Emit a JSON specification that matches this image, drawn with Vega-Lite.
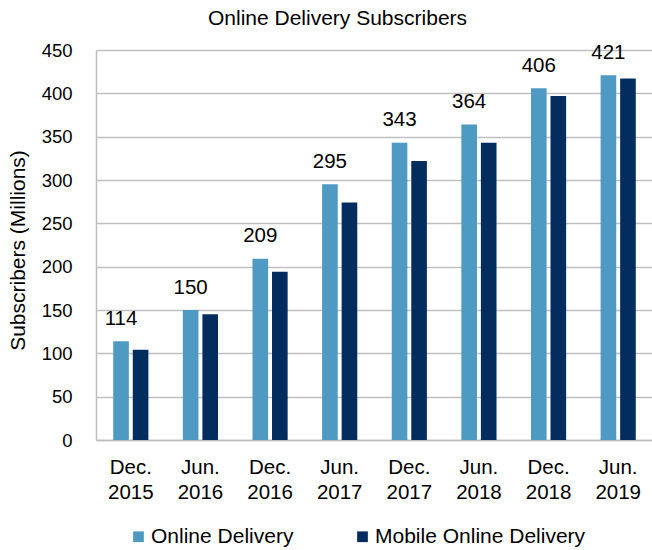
{
  "$schema": "https://vega.github.io/schema/vega-lite/v6.json",
  "autosize": {"type": "none"},
  "padding": {"left": 96, "top": 50, "right": 0, "bottom": 110},
  "width": 557,
  "height": 390,
  "background": "white",
  "config": {
    "font": "Liberation Sans",
    "view": {"stroke": null}
  },
  "title": {
    "text": "Online Delivery Subscribers",
    "fontSize": 21,
    "fontWeight": "normal",
    "color": "#000000",
    "anchor": "middle",
    "dx": -37,
    "offset": 12
  },
  "data": {
    "values": [
      {"period": "Dec. 2015", "series": "Online Delivery", "value": 114},
      {"period": "Dec. 2015", "series": "Mobile Online Delivery", "value": 104},
      {"period": "Jun. 2016", "series": "Online Delivery", "value": 150},
      {"period": "Jun. 2016", "series": "Mobile Online Delivery", "value": 145},
      {"period": "Dec. 2016", "series": "Online Delivery", "value": 209},
      {"period": "Dec. 2016", "series": "Mobile Online Delivery", "value": 194},
      {"period": "Jun. 2017", "series": "Online Delivery", "value": 295},
      {"period": "Jun. 2017", "series": "Mobile Online Delivery", "value": 274},
      {"period": "Dec. 2017", "series": "Online Delivery", "value": 343},
      {"period": "Dec. 2017", "series": "Mobile Online Delivery", "value": 322},
      {"period": "Jun. 2018", "series": "Online Delivery", "value": 364},
      {"period": "Jun. 2018", "series": "Mobile Online Delivery", "value": 343},
      {"period": "Dec. 2018", "series": "Online Delivery", "value": 406},
      {"period": "Dec. 2018", "series": "Mobile Online Delivery", "value": 397},
      {"period": "Jun. 2019", "series": "Online Delivery", "value": 421},
      {"period": "Jun. 2019", "series": "Mobile Online Delivery", "value": 417}
    ]
  },
  "encoding": {
    "x": {
      "field": "period",
      "type": "nominal",
      "sort": null,
      "scale": {"paddingInner": 0.495, "paddingOuter": 0.2475},
      "axis": {
        "title": null,
        "labelAngle": 0,
        "labelFontSize": 20.5,
        "labelColor": "#000000",
        "labelExpr": "split(datum.label, ' ')",
        "labelLineHeight": 25,
        "labelPadding": 17,
        "ticks": false,
        "tickSize": 0,
        "domainColor": "#BEBEBE",
        "domainWidth": 1.5,
        "grid": false
      }
    },
    "xOffset": {
      "field": "series",
      "type": "nominal",
      "sort": ["Online Delivery", "Mobile Online Delivery"],
      "scale": {"paddingInner": 0.2, "paddingOuter": 0}
    },
    "y": {
      "field": "value",
      "type": "quantitative",
      "scale": {"domain": [0, 450]},
      "axis": {
        "title": "Subscribers (Millions)",
        "titleFontSize": 21,
        "titleFontWeight": "normal",
        "titleColor": "#000000",
        "titlePadding": 13,
        "titleY": 200,
        "values": [0, 50, 100, 150, 200, 250, 300, 350, 400, 450],
        "labelFontSize": 18.5,
        "labelColor": "#000000",
        "labelPadding": 24,
        "ticks": false,
        "tickSize": 0,
        "domainColor": "#BEBEBE",
        "domainWidth": 1.5,
        "grid": true,
        "gridColor": "#BFBFBF",
        "gridWidth": 1.3
      }
    }
  },
  "layer": [
    {
      "mark": {"type": "bar"},
      "encoding": {
        "color": {
          "field": "series",
          "type": "nominal",
          "sort": ["Online Delivery", "Mobile Online Delivery"],
          "scale": {
            "domain": ["Online Delivery", "Mobile Online Delivery"],
            "range": ["#4F9AC3", "#022D5E"]
          },
          "legend": {
            "title": null,
            "orient": "none",
            "direction": "horizontal",
            "legendX": 32,
            "legendY": 476,
            "padding": 0,
            "symbolType": "square",
            "symbolSize": 115,
            "symbolStrokeWidth": 0,
            "labelFontSize": 21,
            "labelColor": "#000000",
            "labelOffset": 2,
            "columnPadding": 58,
            "labelLimit": 400
          }
        }
      }
    },
    {
      "transform": [{"filter": "datum.series === 'Online Delivery'"}],
      "mark": {
        "type": "text",
        "baseline": "alphabetic",
        "align": "center",
        "dy": -16.5,
        "fontSize": 20.5,
        "color": "#000000"
      },
      "encoding": {
        "text": {"field": "value", "type": "quantitative"}
      }
    }
  ]
}
